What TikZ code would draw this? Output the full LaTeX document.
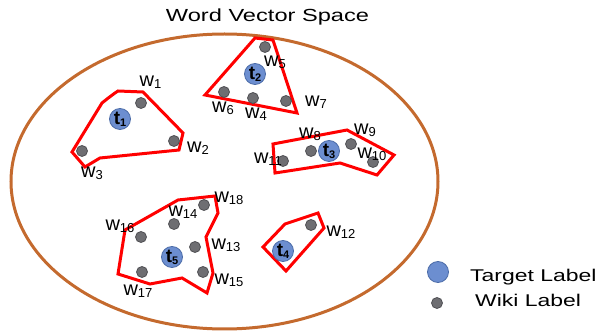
\documentclass[tikz,border=0pt]{standalone}
\usepackage{fontspec}
\setmainfont{Liberation Sans}
\newfontfamily\widefont{Liberation Sans}[FakeStretch=1.35]
\definecolor{tblue}{RGB}{108,142,208}
\definecolor{tblueb}{RGB}{76,108,168}
\definecolor{wgray}{RGB}{110,110,114}
\definecolor{wgrayb}{RGB}{80,80,84}
\definecolor{spacebrown}{RGB}{196,106,46}
\newcommand\wl[1]{w\raisebox{-2pt}{\fontsize{13}{13}\selectfont #1}}
\newcommand\tl[1]{{\fontsize{19}{19}\selectfont\bfseries t}\raisebox{-2pt}{\fontsize{11}{11}\selectfont\bfseries #1}}
\tikzset{
  tdot/.style={circle, draw=tblueb, fill=tblue, line width=0.8pt, minimum size=21pt, inner sep=0pt},
  wdot/.style={circle, draw=wgrayb, fill=wgray, line width=0.8pt, minimum size=11pt, inner sep=0pt},
  wlab/.style={font=\fontsize{20}{20}\selectfont, inner sep=0pt},
  legtext/.style={font=\widefont\fontsize{17}{17}\selectfont, inner sep=0pt, anchor=base west},
  cluster/.style={draw=red, line width=3pt},
  spaceline/.style={draw=spacebrown, line width=3pt}
}
\begin{document}
\begin{tikzpicture}[x=1pt,y=-1pt]
\useasboundingbox (0,0) rectangle (603,331);
% title
\node[font=\widefont\fontsize{17.5}{17.5}\selectfont, inner sep=0pt, anchor=base] (title) at (267.5,22) {Word Vector Space};
% space
\draw[spaceline] (224.5,181.5) ellipse [x radius=213.5, y radius=147.5];
% clusters
\draw[cluster] (72,152) -- (102,103) -- (107,99) -- (115,93) -- (118,91) -- (143,92) -- (183,133) -- (179,150) -- (100,158) -- (85,167) -- cycle;
\draw[cluster] (255,38) -- (273,40) -- (297,113) -- (205,95) -- cycle;
\draw[cluster] (273,144) -- (347,130) -- (394,155) -- (377,175) -- (340,163) -- (275,173) -- cycle;
\draw[cluster] (263,247) -- (285,224) -- (318,213) -- (324,228) -- (286,271) -- cycle;
\draw[cluster] (125,230) -- (178,200) -- (215,196) -- (218,213) -- (206,237) -- (213,273) -- (207,293) -- (182,278) -- (150,284) -- (118,274) -- cycle;
% target labels
\node[tdot] (t1) at (120,119) {\tl{1}};
\node[tdot] (t2) at (255,74) {\tl{2}};
\node[tdot] (t3) at (329,151) {\tl{3}};
\node[tdot] (t4) at (283,251) {\tl{4}};
\node[tdot] (t5) at (172,257) {\tl{5}};
% wiki labels
\node[wdot] (w1) at (141,103) {};
\node[wdot] (w2) at (174,141) {};
\node[wdot] (w3) at (82,151) {};
\node[wdot] (w4) at (253,98) {};
\node[wdot] (w5) at (265,47) {};
\node[wdot] (w6) at (224,92) {};
\node[wdot] (w7) at (286,101) {};
\node[wdot] (w8) at (311,151) {};
\node[wdot] (w9) at (351,144) {};
\node[wdot] (w10) at (373,162) {};
\node[wdot] (w11) at (283,161) {};
\node[wdot] (w12) at (311,225) {};
\node[wdot] (w13) at (195,247) {};
\node[wdot] (w14) at (174,224) {};
\node[wdot] (w15) at (203,272) {};
\node[wdot] (w16) at (141,237) {};
\node[wdot] (w17) at (142,272) {};
\node[wdot] (w18) at (204,205) {};
% word labels
\node[wlab] (lw1) at (150.5,82) {\wl{1}};
\node[wlab] (lw2) at (198,148) {\wl{2}};
\node[wlab] (lw3) at (92,173) {\wl{3}};
\node[wlab] (lw4) at (256,114) {\wl{4}};
\node[wlab] (lw5) at (275,62) {\wl{5}};
\node[wlab] (lw6) at (223,108) {\wl{6}};
\node[wlab] (lw7) at (316,102) {\wl{7}};
\node[wlab] (lw8) at (310,134) {\wl{8}};
\node[wlab] (lw9) at (365,130) {\wl{9}};
\node[wlab] (lw10) at (372,154) {\wl{10}};
\node[wlab] (lw11) at (268,159) {\wl{11}};
\node[wlab] (lw12) at (341,232) {\wl{12}};
\node[wlab] (lw13) at (226,245) {\wl{13}};
\node[wlab] (lw14) at (183,212) {\wl{14}};
\node[wlab] (lw15) at (229,280) {\wl{15}};
\node[wlab] (lw16) at (120,226) {\wl{16}};
\node[wlab] (lw17) at (138,291) {\wl{17}};
\node[wlab] (lw18) at (229,198) {\wl{18}};
% legend
\node[tdot] (legt) at (438,272) {};
\node[wdot] (legw) at (437,303) {};
\node[legtext] (legtl) at (470,282) {Target Label};
\node[legtext] (legwl) at (475,307) {Wiki Label};
\end{tikzpicture}
\end{document}
